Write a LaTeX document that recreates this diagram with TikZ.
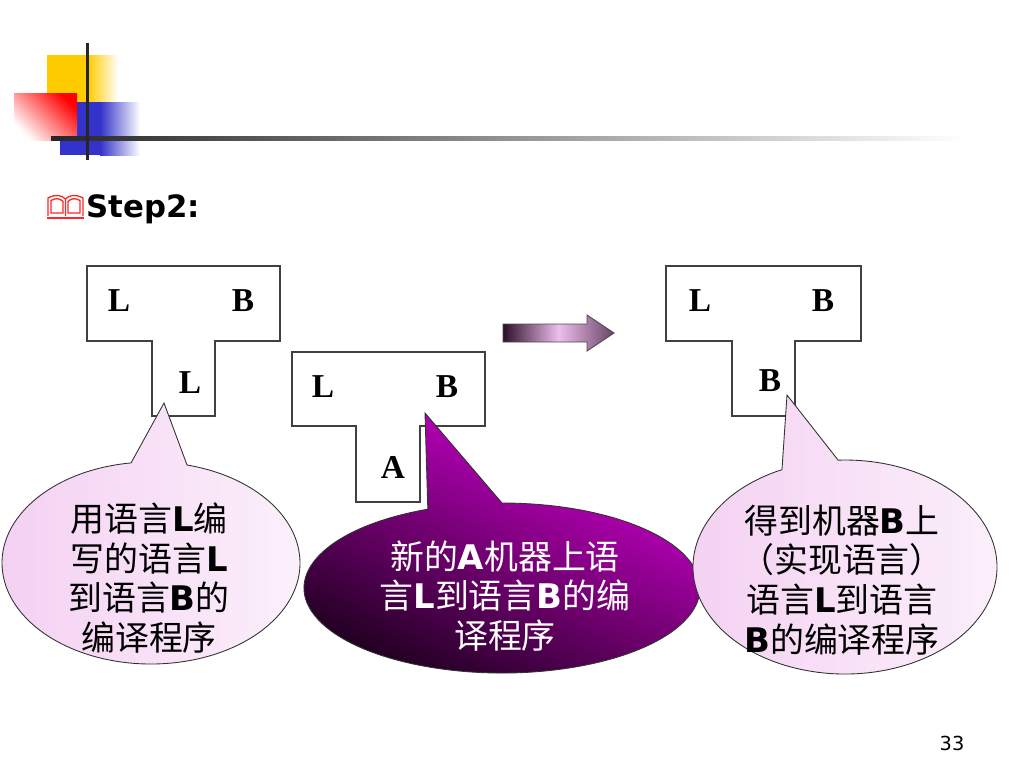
\documentclass[tikz,border=0pt]{standalone}
\usepackage{fontspec}
\newfontfamily\cjk{Noto Sans CJK SC}
\newfontfamily\tahoma{DejaVu Sans}
\newfontfamily\timesfont{Liberation Serif}
\newcommand\bsf[1]{{\tahoma\bfseries #1}}
\definecolor{logoyellow}{RGB}{255,204,0}
\definecolor{logoblue}{RGB}{51,51,204}
\definecolor{notepink}{RGB}{244,208,242}
\definecolor{darkplum}{RGB}{25,0,25}
\definecolor{brightmag}{RGB}{220,0,220}
\definecolor{arrowdark}{RGB}{45,15,40}
\definecolor{arrowpink}{RGB}{238,190,238}
\tikzset{
  tbox/.style={draw=black!75, line width=0.6pt, fill=white},
  tlabel/.style={font=\timesfont\bfseries\fontsize{19}{22}\selectfont, inner sep=0pt},
  note/.style={draw=black!80, line width=0.5pt},
  notetext/.style={font=\cjk\fontsize{19.3}{22.7}\selectfont, align=center, inner sep=0pt},
}
\begin{document}
\begin{tikzpicture}[x=0.02cm, y=-0.02cm]
  \useasboundingbox (0,0) rectangle (1024,768);
  % header logo
  \fill[logoyellow] (47,55) rectangle (88,102);
  \shade[left color=logoyellow, right color=white] (88,55) rectangle (118,102);
  \fill[logoblue] (60,102) rectangle (100,155);
  \shade[left color=logoblue, right color=white] (100,102) rectangle (140,155);
  \shade[top color=red, bottom color=white, shading angle=-45] (14,93) rectangle (77,140);
  \shade[left color=black!85, right color=white] (51,136) rectangle (965,140);
  \fill[black!85] (85.5,43) rectangle (89,160);
  % book bullet and title
  \begin{scope}[red!85, line width=0.75pt]
    \draw (47,218) -- (84,218);
    \draw (48,216) -- (48,198) .. controls (55,194) and (62,195) .. (65.5,199) -- (65.5,216);
    \draw (65.5,199) .. controls (69,195) and (76,194) .. (83,198) -- (83,216);
    \draw (51,213) -- (51,200.5) .. controls (56,197.5) and (60,198.5) .. (63,201.5) -- (63,213) -- cycle;
    \draw (68,201.5) .. controls (71,198.5) and (75,197.5) .. (80,200.5) -- (80,213) -- (68,213) -- cycle;
  \end{scope}
  \node[anchor=west, inner sep=0pt, font=\tahoma\bfseries\fontsize{17.5}{20}\selectfont] (title) at (86,209) {Step2:};
  % T diagrams
  \draw[tbox] (87,266) -- (280,266) -- (280,341) -- (215,341) -- (215,416) -- (152,416) -- (152,341) -- (87,341) -- cycle;
  \draw[tbox] (292,352) -- (485,352) -- (485,426) -- (420,426) -- (420,502) -- (356,502) -- (356,426) -- (292,426) -- cycle;
  \draw[tbox] (666,266) -- (861,266) -- (861,341) -- (795,341) -- (795,416) -- (732,416) -- (732,341) -- (666,341) -- cycle;
  \node[tlabel] (l1) at (119,301) {L};
  \node[tlabel] (b1) at (243,301) {B};
  \node[tlabel] (l1s) at (190,383) {L};
  \node[tlabel] (l2) at (323,387) {L};
  \node[tlabel] (b2) at (447,387) {B};
  \node[tlabel] (a2) at (393,467) {A};
  \node[tlabel] (l3) at (700,301) {L};
  \node[tlabel] (b3) at (823,301) {B};
  \node[tlabel] (b3s) at (770,381) {B};
  % arrow
  \draw[draw=black!70, line width=0.5pt, left color=arrowdark, right color=arrowdark!70!arrowpink, middle color=arrowpink]
    (503,324) -- (587,324) -- (587,315) -- (614,333) -- (587,351) -- (587,342) -- (503,342) -- cycle;
  % callouts
  \draw[note, left color=notepink, right color=white!70!notepink]
    (151,563) ++(-97.7:149 and 101) arc[start angle=-97.7, end angle=-436, x radius=149, y radius=101] -- (164,403) -- cycle;
  \draw[note, top color=brightmag, bottom color=darkplum, shading angle=-25]
    (502,588) ++(-112:198 and 85) arc[start angle=-112, end angle=-450, x radius=198, y radius=85] -- (425,413) -- cycle;
  \draw[note, left color=notepink, right color=white!70!notepink]
    (845,567) ++(-114.5:152 and 107) arc[start angle=-114.5, end angle=-452.6, x radius=152, y radius=107] -- (787,395) -- cycle;
  \node[notetext] (n1) at (149,578) {用语言\bsf{L}编\\写的语言\bsf{L}\\到语言\bsf{B}的\\编译程序};
  \node[notetext, text=white] (n2) at (505,596) {新的\bsf{A}机器上语\\言\bsf{L}到语言\bsf{B}的编\\译程序};
  \node[notetext] (n3) at (842,580) {得到机器\bsf{B}上\\（实现语言）\\语言\bsf{L}到语言\\\bsf{B}的编译程序};
  % page number
  \node[font=\tahoma\fontsize{11}{13}\selectfont, inner sep=0pt] (pg) at (952,743) {33};
\end{tikzpicture}
\end{document}
